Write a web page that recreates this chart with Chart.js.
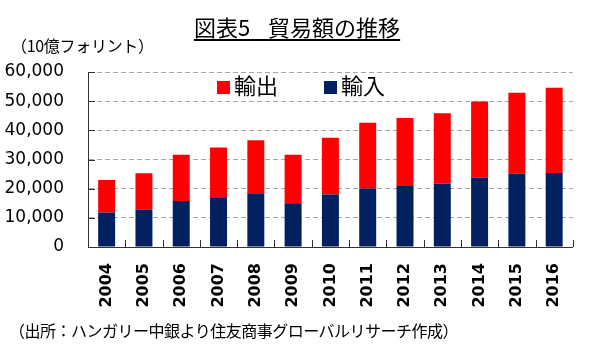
<!DOCTYPE html>
<html><head><meta charset="utf-8">
<script src="https://cdn.jsdelivr.net/npm/chart.js@4/dist/chart.umd.min.js"></script>
<style>
html,body{margin:0;padding:0;background:#fff;}
#wrap{position:relative;width:590px;height:355px;overflow:hidden;background:#fff;}
#c{position:absolute;left:0;top:0;}
.t{position:absolute;white-space:nowrap;font-family:"Noto Sans CJK JP";color:#000;line-height:1;}
#title{left:0;width:590px;text-align:center;top:15px;font-size:22px;text-decoration:underline;text-underline-offset:3px;padding-left:4px;box-sizing:border-box;}
#unit{left:11px;top:37px;font-size:16px;letter-spacing:-0.3px;}
#src{left:9px;top:322px;font-size:16px;letter-spacing:-0.5px;}
</style></head>
<body><div id="wrap">
<canvas id="c" width="590" height="355"></canvas>
<div class="t" id="title">図表5<span style="letter-spacing:-4px">　</span>貿易額の推移</div>
<div class="t" id="unit">（10億フォリント）</div>
<div class="t" id="src">（出所：ハンガリー中銀より住友商事グローバルリサーチ作成）</div>
</div>
<script>
const years = ['2004','2005','2006','2007','2008','2009','2010','2011','2012','2013','2014','2015','2016'];
const imports = [11800, 12900, 15800, 17100, 18400, 15000, 18000, 20100, 20900, 21800, 23800, 25100, 25400];
const exports = [11200, 12400, 15800, 17000, 18200, 16600, 19500, 22500, 23300, 24100, 26100, 27800, 29200];
const seriesNames = ['輸入', '輸出'];
const yTicks = [0, 10000, 20000, 30000, 40000, 50000, 60000];

const innerTicks = {
  id: 'innerTicks',
  afterDatasetsDraw(chart) {
    const ctx = chart.ctx, x = chart.scales.x, y = chart.scales.y;
    const a = chart.chartArea;
    ctx.save();
    ctx.strokeStyle = '#333';
    ctx.lineWidth = 1;
    ctx.beginPath();
    const n = years.length;
    const bounds = [];
    for (let i = 0; i < n - 1; i++) bounds.push((x.getPixelForValue(i) + x.getPixelForValue(i + 1)) / 2);
    bounds.push(a.right);
    bounds.forEach(px => { const p = Math.round(px) + 0.5; ctx.moveTo(p, a.bottom); ctx.lineTo(p, a.bottom - 7); });
    yTicks.forEach(v => { const p = Math.round(y.getPixelForValue(v)) + 0.5; ctx.moveTo(a.left, p); ctx.lineTo(a.left + 7, p); });
    ctx.stroke();
    ctx.restore();
  }
};

const legendIn = {
  id: 'legendIn',
  afterDraw(chart) {
    const ctx = chart.ctx;
    const items = chart.data.datasets.slice().reverse();
    const xs = [217, 324];
    ctx.save();
    ctx.font = '22px "Noto Sans CJK JP"';
    ctx.textBaseline = 'middle';
    ctx.textAlign = 'left';
    items.forEach((ds, i) => {
      ctx.fillStyle = ds.backgroundColor;
      ctx.fillRect(xs[i], 81, 13, 13);
      ctx.fillStyle = '#000';
      ctx.fillText(ds.label, xs[i] + 17, 86);
    });
    ctx.restore();
  }
};

new Chart(document.getElementById('c'), {
  type: 'bar',
  data: {
    labels: years,
    datasets: [
      { label: seriesNames[0], data: imports, backgroundColor: '#002060', barPercentage: 0.455, categoryPercentage: 1 },
      { label: seriesNames[1], data: exports, backgroundColor: '#FF0000', barPercentage: 0.455, categoryPercentage: 1 }
    ]
  },
  options: {
    responsive: false,
    animation: false,
    layout: { padding: { left: 0, right: 16, top: 72, bottom: 0 } },
    plugins: { legend: { display: false }, tooltip: { enabled: false } },
    scales: {
      x: {
        stacked: true,
        afterFit(s) { s.height = 108; },
        grid: { display: false, drawOnChartArea: false, drawTicks: false },
        border: { display: true, color: '#333', width: 1 },
        ticks: { minRotation: 90, maxRotation: 90, padding: 16, color: '#000', autoSkip: false,
          font: { family: 'DejaVu Sans', size: 16, weight: 'bold' } }
      },
      y: {
        stacked: true,
        min: 0, max: 60000,
        afterFit(s) { s.width = 88; },
        afterBuildTicks(s) { s.ticks = yTicks.map(v => ({ value: v })); },
        grid: { color: '#a6a6a6', lineWidth: 1, drawTicks: false },
        border: { display: true, color: '#333', width: 1, dash: [5, 3] },
        ticks: { padding: 24, color: '#000', font: { family: 'DejaVu Sans', size: 17 },
          callback: v => v.toLocaleString('en-US') }
      }
    }
  },
  plugins: [innerTicks, legendIn]
});
</script>
</body></html>
